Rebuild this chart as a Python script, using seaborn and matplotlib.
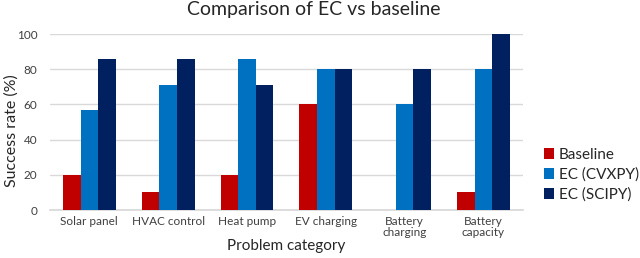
import pandas as pd
import matplotlib
matplotlib.use('Agg')
import matplotlib.pyplot as plt
import seaborn as sns

categories = ['Solar panel', 'HVAC control', 'Heat pump', 'EV charging',
              'Battery\ncharging', 'Battery\ncapacity']
series = ['Baseline', 'EC (CVXPY)', 'EC (SCIPY)']
baseline = [20, 10, 20, 60, 0, 10]
ec_cvxpy = [57, 71, 86, 80, 60, 80]
ec_scipy = [86, 86, 71, 80, 80, 100]
colors = ['#C00000', '#0070C0', '#002060']


def build_frame():
    rows = []
    for name, vals in zip(series, [baseline, ec_cvxpy, ec_scipy]):
        for cat, v in zip(categories, vals):
            rows.append({'category': cat, 'method': name, 'value': v})
    return pd.DataFrame(rows)


def main():
    sns.set_theme(style='white')
    plt.rcParams['font.family'] = ['Lato', 'DejaVu Sans']
    data = build_frame()

    fig = plt.figure(figsize=(6.4, 2.58), dpi=100)
    ax = fig.add_axes([0.078, 0.186, 0.739, 0.682])
    sns.barplot(data=data, x='category', y='value', hue='method',
                palette=colors, width=0.67, gap=0, saturation=1,
                edgecolor='none', ax=ax, zorder=3)

    ax.set_ylim(0, 100)
    ax.set_yticks([0, 20, 40, 60, 80, 100])
    ax.yaxis.grid(True, color='#D9D9D9', linewidth=1, zorder=0)
    for side in ['top', 'right', 'left']:
        ax.spines[side].set_visible(False)
    ax.spines['bottom'].set_color('#D9D9D9')
    ax.tick_params(axis='both', length=0, labelsize=8.5, colors='#404040')
    ax.tick_params(axis='x', pad=4)
    ax.tick_params(axis='y', pad=9)
    for lbl in ax.get_xticklabels():
        lbl.set_linespacing(1.0)
    ax.set_xlabel('Problem category', fontsize=11, color='#262626', labelpad=1)
    ax.set_ylabel('Success rate (%)', fontsize=11.5, color='#262626', labelpad=0)
    ax.yaxis.set_label_coords(-0.066, 0.45)
    fig.suptitle('Comparison of EC vs baseline', x=0.49, y=0.995, va='top',
                 fontsize=14, color='#262626')

    handles, labels = ax.get_legend_handles_labels()
    ax.legend(handles, labels, loc='center left', bbox_to_anchor=(1.015, 0.2),
              frameon=False, fontsize=11, handlelength=0.7, handleheight=0.7,
              handletextpad=0.3, labelspacing=0.35, labelcolor='#262626')

    fig.savefig('out.png', dpi=100)


if __name__ == '__main__':
    main()
